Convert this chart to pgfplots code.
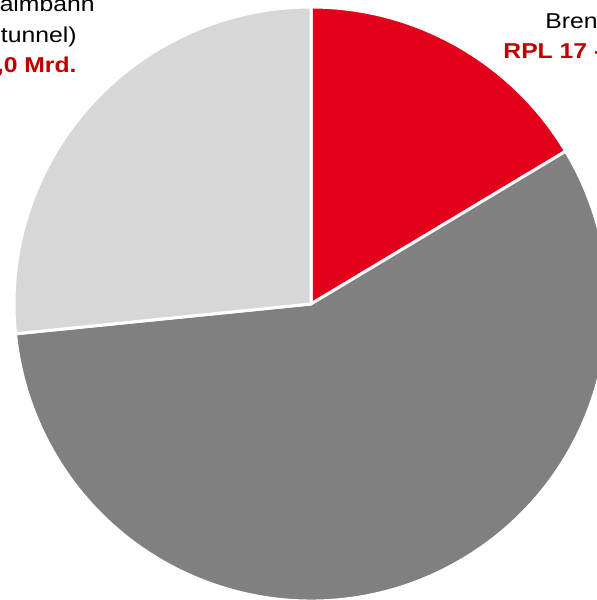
\documentclass[border=0pt]{standalone}
\usepackage{pgfplots}
\usepackage{pgfplotstable}
\pgfplotsset{compat=1.18}
\usepackage{fontspec}
\setmainfont{Liberation Sans}
\newfontfamily\wfont[FakeStretch=1.15]{Liberation Sans}
\definecolor{slred}{HTML}{E2001A}
\definecolor{sldark}{HTML}{808080}
\definecolor{sllight}{HTML}{D7D7D7}
\definecolor{txtred}{HTML}{C00000}
\pgfplotstableread{
label pct
Brenner 16.4
Rest 57.0
Koralm 26.6
}\piedata
\pgfplotstablegetelem{0}{pct}\of\piedata \let\pa\pgfplotsretval
\pgfplotstablegetelem{1}{pct}\of\piedata \let\pb\pgfplotsretval
\pgfplotstablegetelem{2}{pct}\of\piedata \let\pc\pgfplotsretval
\pgfmathsetmacro{\angA}{90}
\pgfmathsetmacro{\angB}{90-3.6*\pa}
\pgfmathsetmacro{\angC}{\angB-3.6*\pb}
\pgfmathsetmacro{\angD}{\angC-3.6*\pc}
\begin{document}
\begin{tikzpicture}[x=0.5pt,y=0.5pt]
\path[use as bounding box] (0,0) rectangle (597,600);
\clip (0,0) rectangle (597,600);
\begin{axis}[
  at={(0,0)}, anchor=south west,
  scale only axis, width=298.5pt, height=300pt,
  xmin=0, xmax=597, ymin=0, ymax=600,
  hide axis, clip=false]
\fill[slred, draw=white, line width=1.5pt, line join=round]
  (axis cs:311,296) -- ++(\angA:148.5pt) arc[start angle=\angA, end angle=\angB, radius=148.5pt] -- cycle;
\fill[sldark, draw=white, line width=1.5pt, line join=round]
  (axis cs:311,296) -- ++(\angB:148.5pt) arc[start angle=\angB, end angle=\angC, radius=148.5pt] -- cycle;
\fill[sllight, draw=white, line width=1.5pt, line join=round]
  (axis cs:311,296) -- ++(\angC:148.5pt) arc[start angle=\angC, end angle=\angD, radius=148.5pt] -- cycle;
\end{axis}
\begin{scope}[font=\wfont\fontsize{10.75}{15}\selectfont]
\node[anchor=base east, inner sep=0pt] at (95,600-12) {Koralmbahn};
\node[anchor=base east, inner sep=0pt] at (77,600-43) {(Koralmtunnel)};
\node[anchor=base east, inner sep=0pt, text=txtred, font=\wfont\fontsize{10.75}{15}\selectfont\bfseries] at (77,600-73) {RPL 5,0 Mrd.};
\node[anchor=base west, inner sep=0pt] at (545,600-29) {Brennerbasistunnel};
\node[anchor=base west, inner sep=0pt, text=txtred, font=\wfont\fontsize{10.75}{15}\selectfont\bfseries] at (503,600-59) {RPL 17 - 22: 1,5 Mrd.};
\end{scope}
\end{tikzpicture}
\end{document}
